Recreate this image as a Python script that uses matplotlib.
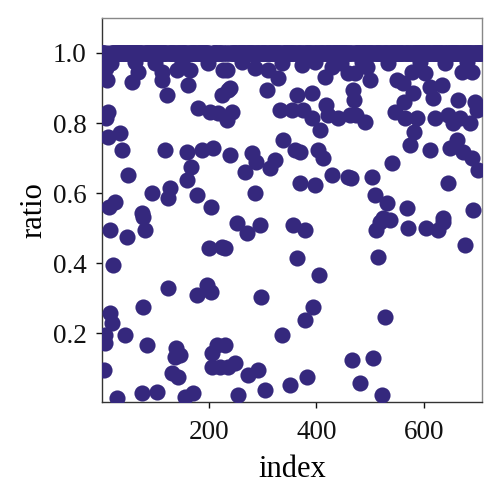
import numpy as np
import matplotlib
matplotlib.use("Agg")
import matplotlib.pyplot as plt

# Series length: indices 1..707, the bulk of the ratios sit at 1.0
n_points = 707
base_ratio = 1.0

# Indices whose ratio is below 1.0
outlier_index = [
    9, 11, 68, 57, 113, 112, 122, 141, 165, 161, 226, 225, 235,
    12, 8, 180, 202, 217, 221, 13, 34, 38, 118, 160, 187, 208, 239,
    166, 49, 159, 94, 128, 123, 178, 203, 25, 14, 75,
    77, 81, 16, 48, 201, 224, 21, 124, 196, 204, 177, 78, 15, 19,
    44, 7, 6, 198, 85, 139, 137, 146, 215, 206, 205, 221, 236, 5,
    131, 142, 76, 103, 29, 155, 170,
    234, 286, 310, 328, 308, 373, 416, 429, 459, 240, 243, 233,
    364, 392, 417, 466, 332, 354, 375, 391, 421, 440, 462, 407,
    338, 360, 369, 403, 412, 248, 280, 287, 267, 323, 314,
    428, 458, 370, 397, 285, 291, 254,
    253, 271, 295, 356, 379, 230, 363, 404, 404, 296, 393, 378, 336,
    229, 248, 273, 291, 382, 351, 304, 254, 466,
    472, 494, 499, 524, 550, 561, 578, 602, 611, 634, 671, 689,
    468, 469, 580, 562, 617, 663, 695,
    473, 490, 546, 565, 587, 621, 645, 667, 686, 699, 654,
    581, 574, 522, 612, 648, 662, 673, 690,
    541, 514, 503, 700, 465, 644, 509, 531, 568, 524, 635, 691,
    518, 537, 510, 570, 603, 626, 636, 676, 514, 527,
    505, 481, 522,
    18, 62, 100, 150, 198, 262, 335, 398, 445, 484, 533, 593, 640, 681,
]
outlier_ratio = [
    0.958, 0.924, 0.947, 0.918, 0.947, 0.924, 0.881, 0.952, 0.952, 0.909, 0.952, 0.881, 0.895,
    0.832, 0.815, 0.844, 0.832, 0.829, 0.809, 0.761, 0.772, 0.724, 0.724, 0.718, 0.724, 0.729, 0.709,
    0.675, 0.652, 0.638, 0.601, 0.615, 0.587, 0.595, 0.561, 0.575, 0.561, 0.544,
    0.532, 0.495, 0.495, 0.475, 0.444, 0.447, 0.395, 0.330, 0.338, 0.318, 0.310, 0.275, 0.258, 0.229,
    0.195, 0.195, 0.172, 0.218, 0.167, 0.158, 0.132, 0.138, 0.167, 0.144, 0.104, 0.104, 0.104, 0.095,
    0.087, 0.075, 0.030, 0.032, 0.015, 0.018, 0.030,
    0.952, 0.958, 0.952, 0.929, 0.895, 0.967, 0.932, 0.961, 0.944, 0.901, 0.832, 0.809,
    0.881, 0.887, 0.852, 0.895, 0.838, 0.838, 0.838, 0.815, 0.824, 0.815, 0.824, 0.781,
    0.752, 0.724, 0.718, 0.724, 0.701, 0.715, 0.715, 0.689, 0.661, 0.695, 0.672,
    0.652, 0.647, 0.629, 0.624, 0.601, 0.575, 0.529,
    0.515, 0.487, 0.509, 0.509, 0.495, 0.444, 0.415, 0.427, 0.367, 0.304, 0.275, 0.238, 0.195,
    0.167, 0.115, 0.081, 0.095, 0.075, 0.052, 0.038, 0.024, 0.124,
    0.944, 0.961, 0.924, 0.944, 0.924, 0.915, 0.947, 0.944, 0.904, 0.909, 0.947, 0.947,
    0.895, 0.867, 0.887, 0.861, 0.872, 0.867, 0.861,
    0.824, 0.804, 0.832, 0.815, 0.815, 0.815, 0.824, 0.815, 0.801, 0.838, 0.801,
    0.775, 0.738, 0.724, 0.724, 0.729, 0.752, 0.718, 0.701,
    0.687, 0.667, 0.647, 0.667, 0.644, 0.629, 0.595, 0.572, 0.558, 0.529, 0.529, 0.552,
    0.518, 0.524, 0.495, 0.501, 0.501, 0.495, 0.518, 0.452, 0.418, 0.247,
    0.129, 0.058, 0.024,
    0.972, 0.975, 0.970, 0.975, 0.972, 0.975, 0.970, 0.975, 0.972, 0.975, 0.970, 0.975, 0.972, 0.975,
]

x_ticks = [200, 400, 600]
y_ticks = [0.2, 0.4, 0.6, 0.8, 1.0]

index = np.arange(1, n_points + 1)
ratio = np.full(n_points, base_ratio)
for i, v in zip(outlier_index, outlier_ratio):
    ratio[i - 1] = v

plt.rcParams['font.family'] = ['Liberation Serif', 'DejaVu Serif']

fig = plt.figure(figsize=(5.0, 4.97), dpi=100)
ax = fig.add_axes([0.204, 0.191, 0.760, 0.773])

ax.scatter(index, ratio, s=135, color='#35287d', linewidths=0, zorder=3)

ax.set_xlim(1, 708)
ax.set_ylim(0.004, 1.1)
ax.set_xticks(x_ticks)
ax.set_xticklabels([str(t) for t in x_ticks])
ax.set_yticks(y_ticks)
ax.set_yticklabels([f"{t:.1f}" for t in y_ticks])

ax.tick_params(axis='both', direction='out', length=4, width=1, labelsize=19.5,
               colors='#111111', top=False, right=False)
ax.tick_params(axis='x', pad=9)
ax.tick_params(axis='y', pad=7)
for side in ['left', 'bottom']:
    ax.spines[side].set_color('#333333')
    ax.spines[side].set_linewidth(1.0)
for side in ['top', 'right']:
    ax.spines[side].set_color('#888888')
    ax.spines[side].set_linewidth(1.0)

ax.set_xlabel('index', fontsize=22, labelpad=7)
ax.set_ylabel('ratio', fontsize=22, labelpad=3)

fig.savefig('out.png', dpi=100)
